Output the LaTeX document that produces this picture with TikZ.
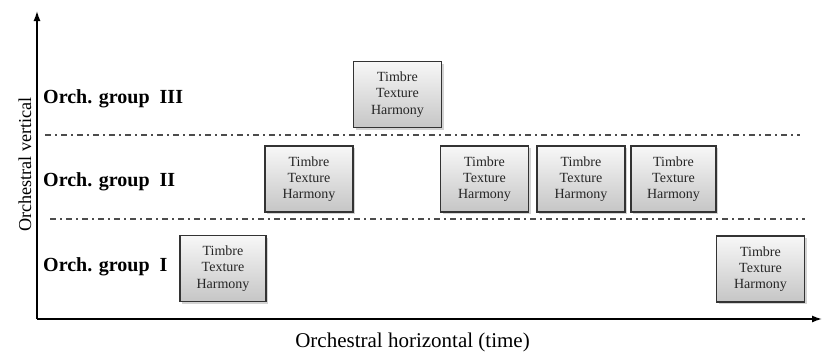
\documentclass[tikz,border=0pt]{standalone}
\usepackage{fontspec}
\setmainfont{Liberation Serif}
\usetikzlibrary{arrows, arrows.meta, shadows}

\tikzset{
    layer/.style={draw=black!80, line width=1.6pt, top color=gray!6, bottom color=gray!45,
        minimum width=88pt, minimum height=66pt, inner sep=0pt, align=center,
        text=black!85, font=\fontsize{14}{16.3}\selectfont,
        drop shadow={shadow xshift=2pt, shadow yshift=-2pt, opacity=0.35}},
    grouplabel/.style={anchor=west, inner sep=0pt, font=\fontsize{20}{24}\selectfont\bfseries},
    divider/.style={black!70, line width=1.6pt, dash pattern=on 6pt off 4pt on 2pt off 4pt},
    axislabel/.style={inner sep=0pt},
    axis/.style={line width=1.4pt, -{Latex[length=10pt, width=7pt]}}
}

\begin{document}
\begin{tikzpicture}[x=1pt, y=-1pt]
    \useasboundingbox (0,0) rectangle (822,351);

    %% Axes
    \coordinate (origin) at (37,319);
    \coordinate (ytop) at (37,11);
    \coordinate (xend) at (822,319);
    \draw[axis] (origin) -- (ytop);
    \draw[axis] (origin) -- (xend);

    % label our axes using nodes
    \node[axislabel, rotate=90, font=\fontsize{18.2}{22}\selectfont] (vlabel) at (25,164.5) {Orchestral vertical};
    \node[axislabel, font=\fontsize{21}{25}\selectfont] (hlabel) at (412.5,342.5) {Orchestral horizontal (time)};

    %% group borders
    \coordinate (b1l) at (45,135);
    \coordinate (b1r) at (800,135);
    \coordinate (b2l) at (50,219);
    \coordinate (b2r) at (805,219);
    \draw[divider] (b1l) -- (b1r);
    \draw[divider] (b2l) -- (b2r);

    % group names
    \foreach \y/\g in {98.5/III, 181.5/II, 267/I}
        \node[grouplabel] (grp\g) at (43,\y) {Orch. group\ \ \g};

    %% Timbre / Texture / Harmony boxes
    \node[layer] (boxIIIa) at (397.5,94.5) {Timbre\\Texture\\Harmony};
    \node[layer] (boxIIa) at (309,179) {Timbre\\Texture\\Harmony};
    \node[layer] (boxIIb) at (484.5,179) {Timbre\\Texture\\Harmony};
    \node[layer] (boxIIc) at (581,179) {Timbre\\Texture\\Harmony};
    \node[layer, minimum width=85pt] (boxIId) at (673.5,179) {Timbre\\Texture\\Harmony};
    \node[layer, minimum width=86pt] (boxIa) at (223,268.5) {Timbre\\Texture\\Harmony};
    \node[layer] (boxIb) at (760.5,269) {Timbre\\Texture\\Harmony};
\end{tikzpicture}
\end{document}
